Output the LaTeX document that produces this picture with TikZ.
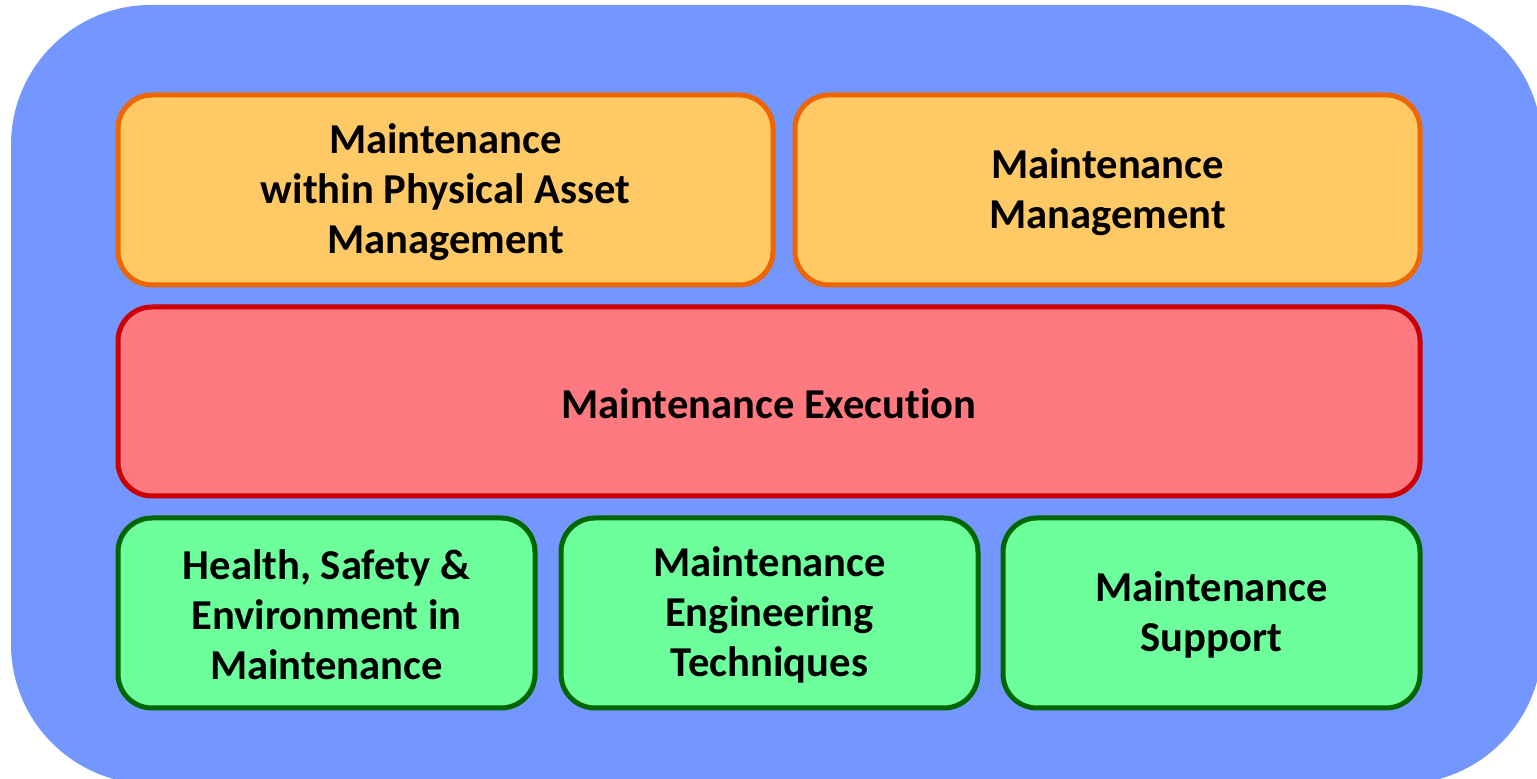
\documentclass[tikz,border=0pt]{standalone}
\usepackage{fontspec}
\setmainfont[Ligatures={NoCommon}]{Carlito}
\begin{document}
\begin{tikzpicture}[x=0.5pt,y=-0.5pt,
  box/.style={rounded corners=17pt, line width=2.5pt, font=\bfseries\fontsize{21.3}{25}\selectfont, align=center},
  orangebox/.style={box, draw=borange, fill=forange},
  redbox/.style={box, draw=bred, fill=fred},
  greenbox/.style={box, draw=bgreen, fill=fgreen}]
\definecolor{bgblue}{HTML}{7396FF}
\definecolor{borange}{HTML}{EE6600}
\definecolor{forange}{HTML}{FFCA66}
\definecolor{bred}{HTML}{CC0000}
\definecolor{fred}{HTML}{FF7A80}
\definecolor{bgreen}{HTML}{006600}
\definecolor{fgreen}{HTML}{6CFF9C}
\useasboundingbox (0,0) rectangle (1537,779);
\fill[bgblue, rounded corners=70pt] (11,5) rectangle (1542,784);
\draw[orangebox] (118,95) rectangle (773,285) node[pos=.5, yshift=-1pt] (a) {Maintenance\\within Physical Asset\\Management};
\draw[orangebox] (795,95) rectangle (1420,285) node[pos=.5, yshift=-1pt] (b) {Maintenance\\Management};
\draw[redbox] (118,307) rectangle (1420,496) node[pos=.5, yshift=-1pt] (c) {Maintenance Execution};
\draw[greenbox] (118,518) rectangle (535,708) node[pos=.5, yshift=-1pt] (d) {Health, Safety \&\\Environment in\\Maintenance};
\draw[greenbox] (561,518) rectangle (978,708) node[pos=.5, yshift=-1pt] (e) {Maintenance\\Engineering\\Techniques};
\draw[greenbox] (1003,518) rectangle (1420,708) node[pos=.5, yshift=-1pt] (f) {Maintenance\\Support};
\end{tikzpicture}
\end{document}
